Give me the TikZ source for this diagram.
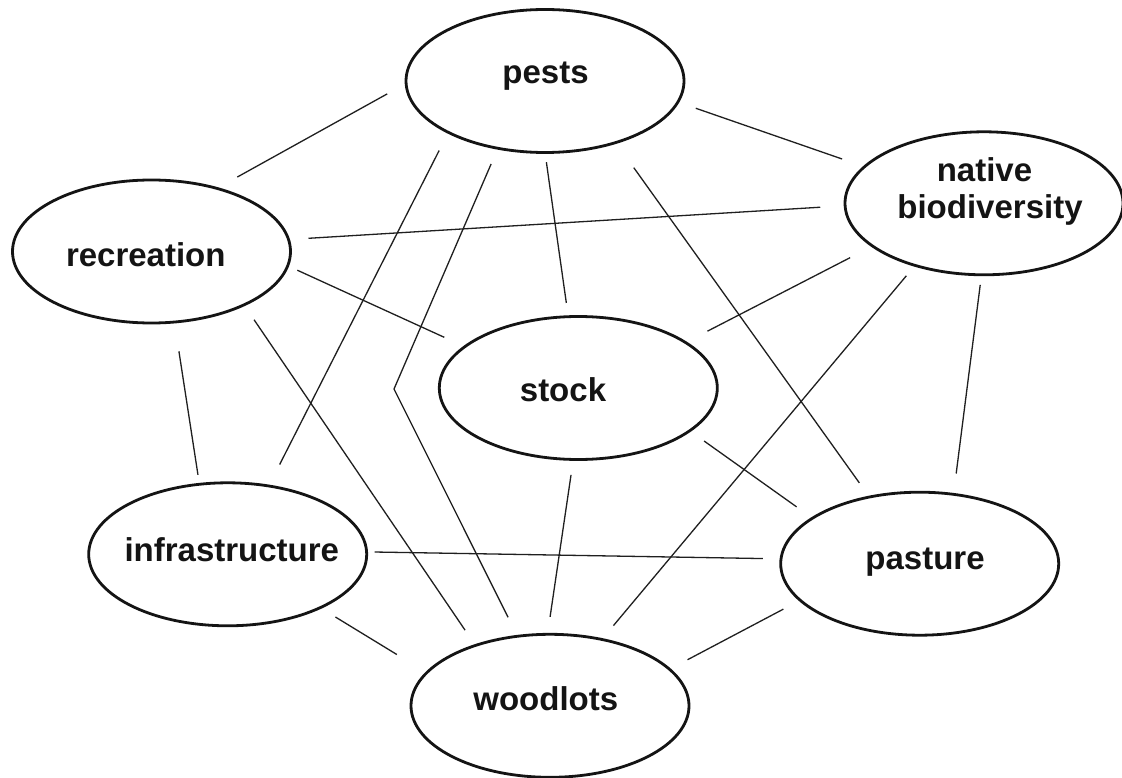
\documentclass[tikz,border=0pt]{standalone}
\usepackage{fontspec}
\setmainfont{Liberation Sans}
\usetikzlibrary{shapes.geometric}
\begin{document}
\begin{tikzpicture}[x=1pt,y=-1pt,
  blob/.style={ellipse,draw=black!92,line width=2.8pt,minimum width=278pt,minimum height=143pt,inner sep=0pt,outer sep=0pt},
  lbl/.style={anchor=base,inner sep=0pt,font=\fontsize{33}{37}\selectfont\bfseries,text=black!92},
  link/.style={draw=black!88,line width=1.3pt}]
\useasboundingbox[fill=white] (0,0) rectangle (1122,778);
% ellipses
\node[blob] (P)  at (545,81) {};
\node[blob] (N)  at (984,203.3) {};
\node[blob] (R)  at (151.5,251.5) {};
\node[blob] (S)  at (578.3,388) {};
\node[blob] (I)  at (227.7,554.3) {};
\node[blob] (Pa) at (919.7,563.7) {};
\node[blob] (W)  at (550,705.8) {};
% labels
\node[lbl] (Pt)  at (545.5,83.3) {pests};
\node[lbl] (Nt1) at (984.5,181.7) {native};
\node[lbl] (Nt2) at (990,218.3) {biodiversity};
\node[lbl] (Rt)  at (145.8,266.7) {recreation};
\node[lbl] (St)  at (563,401) {stock};
\node[lbl] (It)  at (231.8,561) {infrastructure};
\node[lbl] (Pat) at (925,569) {pasture};
\node[lbl] (Wt)  at (545.8,710.7) {woodlots};
\coordinate (kink) at (394,389);
% connectors
\draw[link,shorten <=23.4pt,shorten >=21.6pt] (R.44.6) -- (P.181.8);
\draw[link,shorten <=19.0pt,shorten >=23.7pt] (P.351.3) -- (N.163.9);
\draw[link,shorten <=20.0pt,shorten >=24.9pt] (R.5.2) -- (N.181.75);
\draw[link,shorten <=10.6pt,shorten >=22.6pt] (R.354.5) -- (S.160.9);
\draw[link,shorten <=9.8pt,shorten >=13.9pt] (P.270.4) -- (S.98.9);
\draw[link,shorten <=20.3pt,shorten >=24.1pt] (P.208.6) -- (I.59.6);
\draw[link,shorten <=17.1pt,shorten >=21.3pt] (P.235.2) -- (kink) -- (W.115.3);
\draw[link,shorten <=18.0pt,shorten >=18.5pt] (R.330.7) -- (W.141.8);
\draw[link,shorten <=30.9pt,shorten >=17.4pt] (P.319.6) -- (Pa.127.4);
\draw[link,shorten <=25.3pt,shorten >=24.7pt] (N.201.5) -- (S.23.7);
\draw[link,shorten <=13.6pt,shorten >=18.1pt] (N.222.6) -- (W.52.3);
\draw[link,shorten <=10.2pt,shorten >=21.0pt] (N.268) -- (Pa.64.1);
\draw[link,shorten <=29.6pt,shorten >=9.6pt] (R.288.4) -- (I.112.4);
\draw[link,shorten <=17.7pt,shorten >=19.5pt] (S.339.2) -- (Pa.157.7);
\draw[link,shorten <=15.6pt,shorten >=17.7pt] (S.266.7) -- (W.92.8);
\draw[link,shorten <=8.1pt,shorten >=18.2pt] (I.1.4) -- (Pa.178.5);
\draw[link,shorten <=17.9pt,shorten >=35.0pt] (I.330.1) -- (W.165);
\draw[link,shorten <=19.1pt,shorten >=20.4pt] (Pa.197.4) -- (W.17.1);
\end{tikzpicture}
\end{document}
